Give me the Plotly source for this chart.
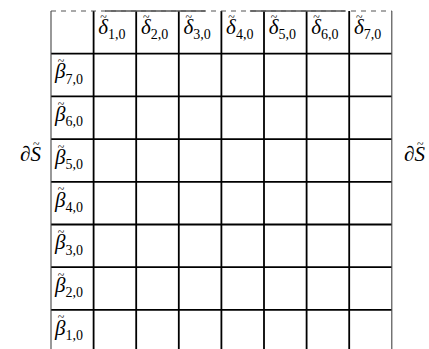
import plotly.graph_objects as go

# ---- data ----
col_indices = [1, 2, 3, 4, 5, 6, 7]          # delta~_{i,0} across the top row
row_indices = [7, 6, 5, 4, 3, 2, 1]          # beta~_{j,0} down the left column
top_letter = "δ"
left_letter = "β"
n_cols = 8
n_rows = 8
top_solid_segments = [(1.27, 3.62), (4.67, 6.90)]   # solid parts of the dashed top edge

# ---- geometry (page pixels) ----
W, H = 429, 349
x0_px, cell_w = 51.0, 42.6
y0_px, cell_h = 11.0, 42.7
xr = [-x0_px / cell_w, (W - x0_px) / cell_w]
yr = [(H - y0_px) / cell_h, -y0_px / cell_h]

def dx(px):
    return px / cell_w

def dy(px):
    return px / cell_h

fig = go.Figure()

def line(xs, ys, color, width, dash="solid"):
    fig.add_trace(go.Scatter(x=xs, y=ys, mode="lines",
                             line=dict(color=color, width=width, dash=dash),
                             hoverinfo="skip", showlegend=False))

# horizontal row lines
for r in range(1, n_rows):
    line([0, n_cols], [r, r], "#000000", 1.8)
# inner vertical lines
for c in range(1, n_cols):
    line([c, c], [0, n_rows + 0.5], "#000000", 1.8)
# outer borders
for c in (0, n_cols):
    line([c, c], [0, n_rows + 0.5], "#444444", 1.1)
# top edge: dashed with solid pieces
line([0, n_cols], [0, 0], "#555555", 1.1, dash="5px,5px")
for a, b in top_solid_segments:
    line([a, b], [0, 0], "#555555", 1.3)

serif = "Liberation Serif, DejaVu Serif, serif"
MAIN, SUB, TILDE = 21, 14, 12

def label_cells(cells, letter, subs, base):
    # cells: list of (col, row) grid indices of the cell's top-left corner
    ax = [c + 0.34 for c, r in cells]
    fig.add_trace(go.Scatter(x=ax, y=[r + dy(base) for c, r in cells], mode="text",
                             text=[f"<i>{letter}</i>"] * len(cells), textposition="middle left",
                             textfont=dict(family=serif, size=MAIN, color="#000000"),
                             hoverinfo="skip", showlegend=False))
    fig.add_trace(go.Scatter(x=ax, y=[r + dy(base + 7) for c, r in cells], mode="text",
                             text=subs, textposition="middle right",
                             textfont=dict(family=serif, size=SUB, color="#000000"),
                             hoverinfo="skip", showlegend=False))
    fig.add_trace(go.Scatter(x=[a - dx(4.5) for a in ax], y=[r + dy(base - 11) for c, r in cells],
                             mode="text", text=["~"] * len(cells), textposition="middle center",
                             textfont=dict(family=serif, size=TILDE, color="#000000"),
                             hoverinfo="skip", showlegend=False))

label_cells([(c, 0) for c in range(1, n_cols)], top_letter, [f"{i},0" for i in col_indices], 17.5)
label_cells([(0, r) for r in range(1, n_rows)], left_letter, [f"{j},0" for j in row_indices], 19.5)

# side labels  ∂S~  (page px centres)
for cx in (30, 414):
    fig.add_annotation(x=cx / W, y=1 - 154 / H, xref="paper", yref="paper",
                       xanchor="center", yanchor="middle",
                       text="<i>∂S</i>", showarrow=False,
                       font=dict(family=serif, size=MAIN, color="#000000"))
    fig.add_annotation(x=(cx + 6) / W, y=1 - 144 / H, xref="paper", yref="paper",
                       xanchor="center", yanchor="middle",
                       text="~", showarrow=False,
                       font=dict(family=serif, size=TILDE, color="#000000"))

fig.update_layout(width=W, height=H, margin=dict(l=0, r=0, t=0, b=0),
                  paper_bgcolor="white", plot_bgcolor="white",
                  xaxis=dict(range=xr, visible=False, fixedrange=True),
                  yaxis=dict(range=yr, visible=False, fixedrange=True))

fig.write_html("out.html", config={"displayModeBar": False},
               post_script="document.body.style.margin='0';document.body.style.overflow='hidden';")
